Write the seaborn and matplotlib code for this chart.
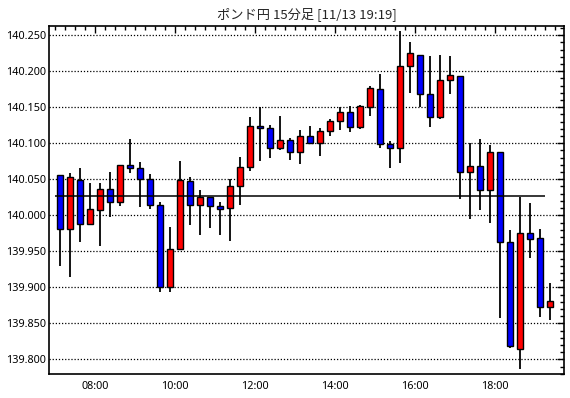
import numpy as np
import pandas as pd
import matplotlib
matplotlib.use('Agg')
import matplotlib.pyplot as plt
import seaborn as sns
from matplotlib.ticker import MultipleLocator, FuncFormatter

# ポンド円 15分足 (07:00 - 19:15)
opens = [140.056, 139.981, 140.049, 139.988, 140.008, 140.036, 140.019, 140.070, 140.065, 140.051,
         140.015, 139.901, 139.953, 140.047, 140.014, 140.026, 140.013, 140.010, 140.040, 140.067,
         140.124, 140.121, 140.093, 140.104, 140.088, 140.110, 140.100, 140.117, 140.131, 140.143,
         140.122, 140.151, 140.175, 140.099, 140.093, 140.207, 140.222, 140.169, 140.136, 140.188,
         140.194, 140.060, 140.068, 140.035, 140.088, 139.963, 139.815, 139.976, 139.969, 139.872]
highs = [140.056, 140.059, 140.065, 140.045, 140.045, 140.060, 140.070, 140.106, 140.074, 140.057,
         140.019, 139.984, 140.076, 140.053, 140.035, 140.026, 140.019, 140.051, 140.081, 140.137,
         140.150, 140.126, 140.138, 140.107, 140.118, 140.124, 140.121, 140.134, 140.150, 140.152,
         140.153, 140.179, 140.196, 140.103, 140.256, 140.241, 140.222, 140.221, 140.223, 140.221,
         140.194, 140.100, 140.106, 140.098, 140.088, 139.980, 140.026, 140.017, 139.981, 139.906]
lows = [139.929, 139.915, 139.963, 139.988, 139.958, 139.998, 140.013, 140.059, 140.011, 140.009,
        139.894, 139.894, 139.953, 139.987, 139.973, 139.982, 139.972, 139.965, 140.015, 140.062,
        140.075, 140.080, 140.090, 140.077, 140.071, 140.099, 140.083, 140.110, 140.119, 140.116,
        140.120, 140.138, 140.093, 140.065, 140.073, 140.170, 140.150, 140.123, 140.134, 140.169,
        140.023, 139.995, 140.007, 139.990, 139.857, 139.816, 139.787, 139.941, 139.859, 139.854]
closes = [139.981, 140.053, 139.988, 140.009, 140.036, 140.019, 140.070, 140.065, 140.051, 140.015,
          139.901, 139.953, 140.049, 140.014, 140.026, 140.013, 140.009, 140.040, 140.067, 140.124,
          140.121, 140.093, 140.104, 140.088, 140.110, 140.101, 140.117, 140.131, 140.143, 140.122,
          140.152, 140.177, 140.099, 140.093, 140.207, 140.226, 140.169, 140.136, 140.188, 140.195,
          140.060, 140.069, 140.035, 140.088, 139.963, 139.818, 139.975, 139.967, 139.872, 139.881]
base_price = 140.0264
title = 'ポンド円 15分足 [11/13 19:19]'

sns.set_style("white")
plt.rcParams['font.family'] = ['Noto Sans', 'DejaVu Sans']

df = pd.DataFrame({'open': opens, 'high': highs, 'low': lows, 'close': closes})
# 足の中心 = 開始時刻 + 7.5分 (時間単位)
df['x'] = 7.0 + 0.25 * np.arange(len(df)) + 0.125
df['up'] = df['close'] >= df['open']

fig = plt.figure(figsize=(5.7, 3.98), dpi=100)
ax = fig.add_axes([49 / 570, 1 - 374 / 398, (564 - 49) / 570, (374 - 26) / 398])

ax.set_xlim(6.85, 19.725)
ax.set_ylim(139.7796, 140.2629)

# 点線グリッド
for yv in np.arange(139.80, 140.2501, 0.05):
    ax.axhline(yv, color='black', lw=0.9, ls=(0, (1, 1.5)), zorder=1)

# ヒゲ
ax.vlines(df['x'], df['low'], df['high'], color='black', lw=1.3, zorder=2)
# 実体
colors = np.where(df['up'], '#ff0000', '#0000ff')
ax.bar(df['x'], df['close'] - df['open'], bottom=df['open'], width=0.15,
       color=colors, edgecolor='black', linewidth=1.0, zorder=3)

# 基準線
ax.hlines(base_price, 7.0, df['x'].iloc[-1] - 0.125, color='black', lw=1.1, zorder=4)

ax.xaxis.set_major_locator(MultipleLocator(2))
ax.xaxis.set_minor_locator(MultipleLocator(0.25))
ax.xaxis.set_major_formatter(FuncFormatter(lambda v, p: f'{int(round(v)):02d}:00'))
ax.yaxis.set_major_locator(MultipleLocator(0.05))
ax.yaxis.set_minor_locator(MultipleLocator(0.01))
ax.yaxis.set_major_formatter(FuncFormatter(lambda v, p: f'{v:.3f}'))

ax.tick_params(which='both', direction='in', top=True, right=True, colors='black',
               labelsize=7.8, width=1)
ax.tick_params(which='major', length=5)
ax.tick_params(which='minor', length=3)
ax.tick_params(axis='y', pad=2)
ax.tick_params(axis='x', pad=5)
for s in ax.spines.values():
    s.set_color('black')
    s.set_linewidth(1.2)

ax.set_title(title, fontsize=9.5, pad=6, family=['Noto Sans CJK JP', 'DejaVu Sans'])

fig.savefig('out.png', dpi=100)
